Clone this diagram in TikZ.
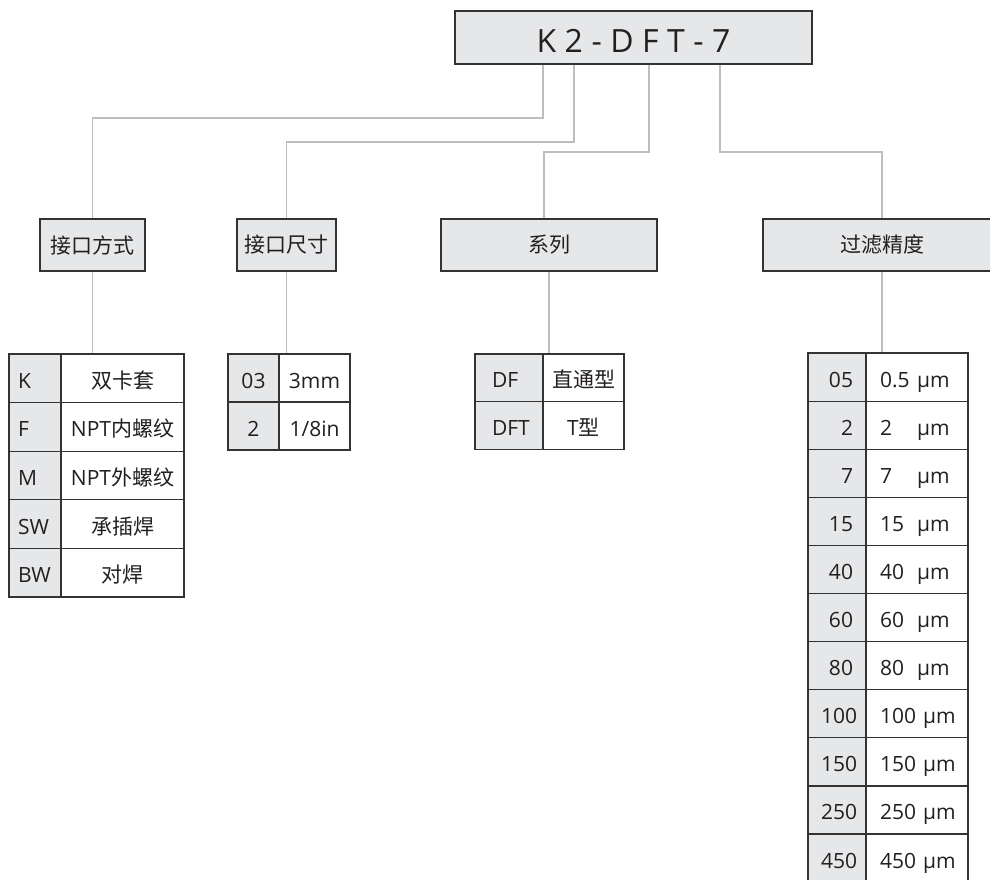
\documentclass[tikz,border=0pt]{standalone}
\usepackage{fontspec}
\setmainfont{Open Sans}
\newfontfamily\cjk{Noto Sans CJK SC}
\usetikzlibrary{backgrounds}
\definecolor{boxfill}{HTML}{E6E7E8}
\definecolor{bordc}{HTML}{333333}
\definecolor{connc}{HTML}{BCBEC0}
\definecolor{txtc}{HTML}{231F20}
\newcommand\gapk{\kern8.5pt}
\begin{document}
\begin{tikzpicture}[x=1pt,y=-1pt,
  font=\fontsize{21}{25}\selectfont, text=txtc,
  boxst/.style={draw=bordc, fill=boxfill, line width=1.4pt, minimum height=52pt, inner sep=0pt},
  conn/.style={draw=connc, line width=1.8pt},
  cellbase/.style={draw=bordc, line width=1.2pt, inner ysep=0pt, text height=20pt, text depth=0pt},
  keyc/.style={cellbase, fill=boxfill},
  valc/.style={cellbase, fill=white}]
\useasboundingbox (0,0) rectangle (990,879);
\clip (0,0) rectangle (990,879);

% top code box
\node[boxst, minimum width=357pt, minimum height=53pt, text height=29pt, text depth=0pt,
  font=\fontsize{32}{36}\selectfont] (top) at (633.5,37.5)
  {K\gapk 2\gapk -\gapk D\gapk F\gapk T\gapk -\gapk 7};

% level-2 boxes
\node[boxst, minimum width=105pt] (jk) at (92.5,245) {\cjk 接口方式};
\node[boxst, minimum width=99pt] (ja) at (286.5,245) {\cjk 接口尺寸};
\node[boxst, minimum width=216pt] (xl) at (549,245) {\cjk 系列};
\node[boxst, minimum width=238pt] (gl) at (882,245) {\cjk 过滤精度};

% table 1
\foreach \k/\v [count=\i] in {K/{\cjk 双卡套}, F/{NPT{\cjk 内螺纹}}, M/{NPT{\cjk 外螺纹}}, SW/{\cjk 承插焊}, BW/{\cjk 对焊}} {
  \node[keyc, minimum height=48.6pt, inner xsep=9pt, text width=34pt, align=left]
    (ta\i) at (35,{354+48.6*(\i-0.5)}) {\k};
  \node[valc, minimum height=48.6pt, inner xsep=4pt, text width=115pt, align=center]
    (tav\i) at (122.5,{354+48.6*(\i-0.5)}) {\v};
}

% table 2
\foreach \k/\v [count=\i] in {03/3mm, 2/{1/8in}} {
  \node[keyc, minimum height=48pt, inner xsep=4pt, text width=43pt, align=center]
    (tb\i) at (253.5,{354+48*(\i-0.5)}) {\k};
  \node[valc, minimum height=48pt, inner xsep=4pt, text width=63pt, align=center]
    (tbv\i) at (314.5,{354+48*(\i-0.5)}) {\v};
}

% table 3
\foreach \k/\v [count=\i] in {DF/{\cjk 直通型}, DFT/{T{\cjk 型}}} {
  \node[keyc, minimum height=47.8pt, inner xsep=17pt, text width=34pt, align=left]
    (tc\i) at (509,{354+47.8*(\i-0.5)}) {\k};
  \node[valc, minimum height=47.8pt, inner xsep=4pt, text width=73pt, align=center]
    (tcv\i) at (583.5,{354+47.8*(\i-0.5)}) {\v};
}

% table 4
\foreach \k/\v [count=\i] in {
  05/{\makebox[37pt][l]{0.5}µm},
  2/{\makebox[37pt][l]{2}µm},
  7/{\makebox[37pt][l]{7}µm},
  15/{\makebox[37pt][l]{15}µm},
  40/{\makebox[37pt][l]{40}µm},
  60/{\makebox[37pt][l]{60}µm},
  80/{\makebox[37pt][l]{80}µm},
  100/{\mbox{100 µm}}, 150/{\mbox{150 µm}}, 250/{\mbox{250 µm}}, 450/{\mbox{450 µm}}} {
  \node[keyc, minimum height=48.1pt, inner xsep=13pt, text width=32pt, align=right]
    (td\i) at (837,{353+48.1*(\i-0.5)}) {\k};
  \node[valc, minimum height=48.1pt, inner xsep=14pt, text width=74pt, align=left]
    (tdv\i) at (917,{353+48.1*(\i-0.5)}) {\v};
}

% connectors
\begin{scope}[on background layer]
\coordinate (b1) at (543,118);
\coordinate (b2) at (574,142);
\coordinate (b3) at (649,152);
\coordinate (b4) at (720,152);
\draw[conn] (top.south -| b1) -- (b1) -| (jk.north);
\draw[conn] (top.south -| b2) -- (b2) -| (ja.north);
\draw[conn] (top.south -| b3) -- (b3) -| ([xshift=-5pt]xl.north);
\draw[conn] (top.south -| b4) -- (b4) -| (gl.north);
\draw[conn] (jk.south) -- (jk.south |- tav1.north);
\draw[conn] (ja.south) -- (ja.south |- tbv1.north);
\draw[conn] (xl.south) -- (xl.south |- tcv1.north);
\draw[conn] (gl.south) -- (gl.south |- tdv1.north);
\end{scope}
\end{tikzpicture}
\end{document}
